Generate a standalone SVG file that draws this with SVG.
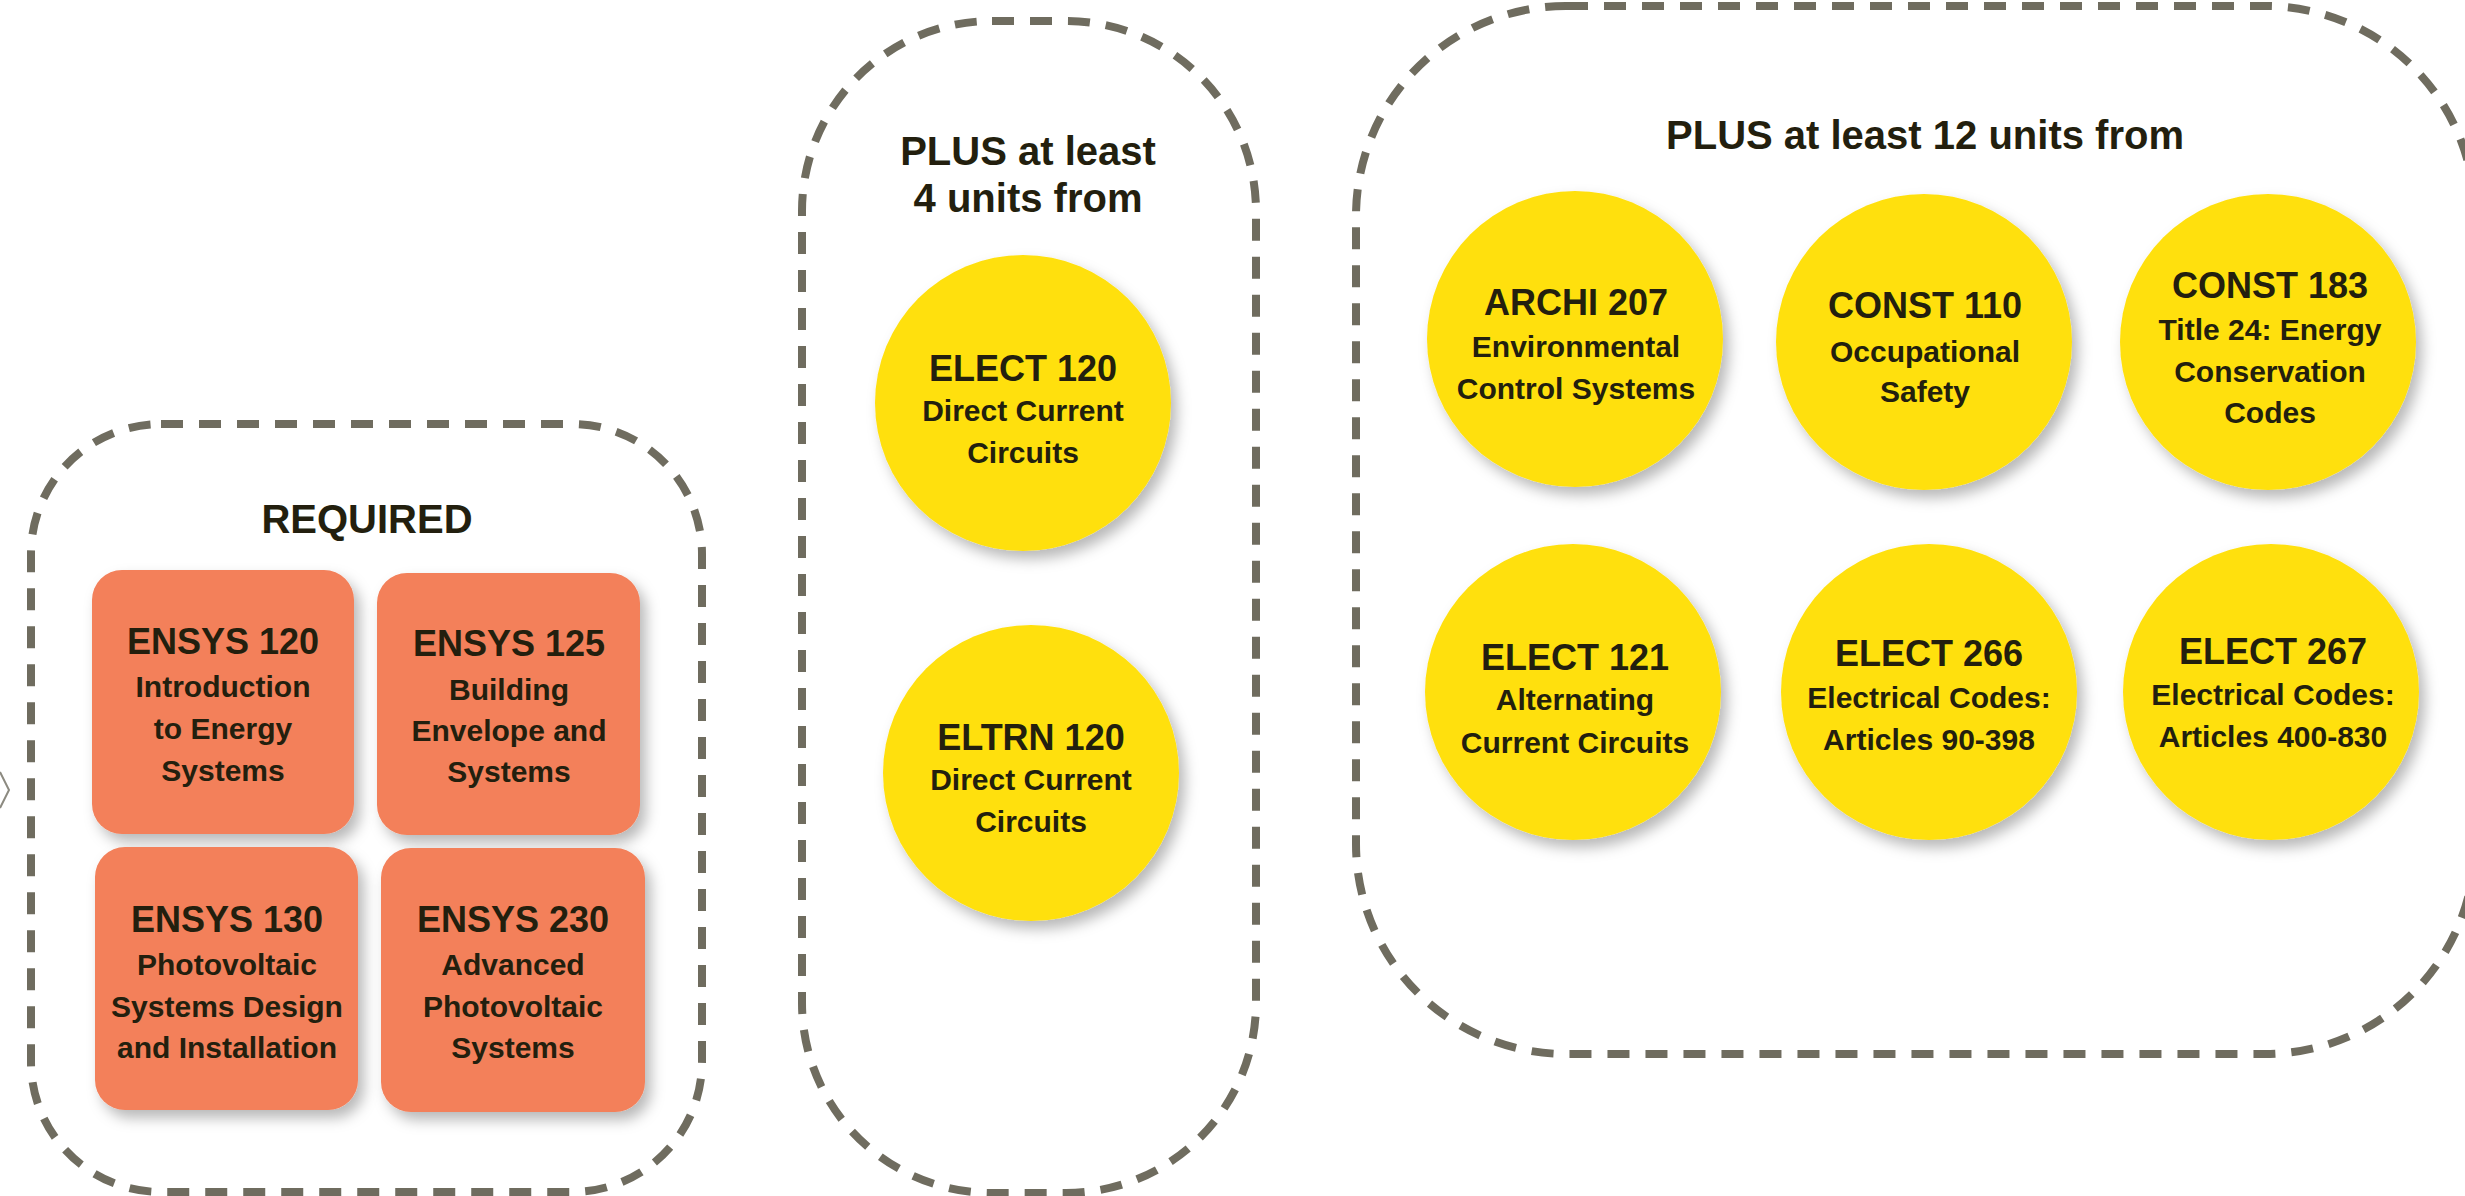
<svg xmlns="http://www.w3.org/2000/svg" width="2465" height="1196" viewBox="0 0 2465 1196">
<defs>
<filter id="sh" x="-20%" y="-20%" width="150%" height="150%">
<feDropShadow dx="6" dy="8" stdDeviation="7" flood-color="#000" flood-opacity="0.28"/>
</filter>
<style>
.grp{fill:none;stroke:#6f6c5f;stroke-width:8;stroke-dasharray:22 16}
.box{fill:#f3805a;filter:url(#sh)}
.circ{fill:#ffe010;filter:url(#sh)}
text{font-family:"Liberation Sans",Arial,sans-serif;font-weight:bold;fill:#231f0e;text-anchor:middle}
.hd{font-size:40px}
.t{font-size:36px}
.s{font-size:30px}
</style>
</defs>
<rect width="2465" height="1196" fill="#fff"/>
<path d="M0,772 L9,790 L0,808" fill="none" stroke="#8c8a80" stroke-width="2"/>
<g id="group-required">
<rect class="grp" x="31" y="424" width="671" height="768" rx="130" ry="130"/>
<text class="hd" x="367" y="533">REQUIRED</text>
</g>
<g id="group-plus4">
<rect class="grp" x="802" y="21" width="454" height="1172" rx="190" ry="190"/>
<text class="hd" x="1028" y="165">PLUS at least</text>
<text class="hd" x="1028" y="212">4 units from</text>
</g>
<g id="group-plus12">
<rect class="grp" x="1356" y="6" width="1119" height="1048" rx="210" ry="210"/>
<text class="hd" x="1925" y="149">PLUS at least 12 units from</text>
</g>
<g id="ensys120">
<rect class="box" x="92" y="570" width="262" height="264" rx="30"/>
<text class="t" x="223" y="654">ENSYS 120</text>
<text class="s" x="223" y="697">Introduction</text>
<text class="s" x="223" y="739">to Energy</text>
<text class="s" x="223" y="781">Systems</text>
</g>
<g id="ensys125">
<rect class="box" x="377" y="573" width="263" height="262" rx="30"/>
<text class="t" x="509" y="656">ENSYS 125</text>
<text class="s" x="509" y="700">Building</text>
<text class="s" x="509" y="741">Envelope and</text>
<text class="s" x="509" y="782">Systems</text>
</g>
<g id="ensys130">
<rect class="box" x="95" y="847" width="263" height="263" rx="30"/>
<text class="t" x="227" y="932">ENSYS 130</text>
<text class="s" x="227" y="975">Photovoltaic</text>
<text class="s" x="227" y="1017">Systems Design</text>
<text class="s" x="227" y="1058">and Installation</text>
</g>
<g id="ensys230">
<rect class="box" x="381" y="848" width="264" height="264" rx="30"/>
<text class="t" x="513" y="932">ENSYS 230</text>
<text class="s" x="513" y="975">Advanced</text>
<text class="s" x="513" y="1017">Photovoltaic</text>
<text class="s" x="513" y="1058">Systems</text>
</g>
<g id="elect120">
<circle class="circ" cx="1023" cy="403" r="148"/>
<text class="t" x="1023" y="381">ELECT 120</text>
<text class="s" x="1023" y="421">Direct Current</text>
<text class="s" x="1023" y="463">Circuits</text>
</g>
<g id="eltrn120">
<circle class="circ" cx="1031" cy="773" r="148"/>
<text class="t" x="1031" y="750">ELTRN 120</text>
<text class="s" x="1031" y="790">Direct Current</text>
<text class="s" x="1031" y="832">Circuits</text>
</g>
<g id="archi207">
<circle class="circ" cx="1575" cy="339" r="148"/>
<text class="t" x="1576" y="315">ARCHI 207</text>
<text class="s" x="1576" y="357">Environmental</text>
<text class="s" x="1576" y="399">Control Systems</text>
</g>
<g id="const110">
<circle class="circ" cx="1924" cy="342" r="148"/>
<text class="t" x="1925" y="318">CONST 110</text>
<text class="s" x="1925" y="362">Occupational</text>
<text class="s" x="1925" y="402">Safety</text>
</g>
<g id="const183">
<circle class="circ" cx="2268" cy="342" r="148"/>
<text class="t" x="2270" y="298">CONST 183</text>
<text class="s" x="2270" y="340">Title 24: Energy</text>
<text class="s" x="2270" y="382">Conservation</text>
<text class="s" x="2270" y="423">Codes</text>
</g>
<g id="elect121">
<circle class="circ" cx="1573" cy="692" r="148"/>
<text class="t" x="1575" y="670">ELECT 121</text>
<text class="s" x="1575" y="710">Alternating</text>
<text class="s" x="1575" y="753">Current Circuits</text>
</g>
<g id="elect266">
<circle class="circ" cx="1929" cy="692" r="148"/>
<text class="t" x="1929" y="666">ELECT 266</text>
<text class="s" x="1929" y="708">Electrical Codes:</text>
<text class="s" x="1929" y="750">Articles 90-398</text>
</g>
<g id="elect267">
<circle class="circ" cx="2271" cy="692" r="148"/>
<text class="t" x="2273" y="664">ELECT 267</text>
<text class="s" x="2273" y="705">Electrical Codes:</text>
<text class="s" x="2273" y="747">Articles 400-830</text>
</g>
<g id="connectors"></g>
</svg>
